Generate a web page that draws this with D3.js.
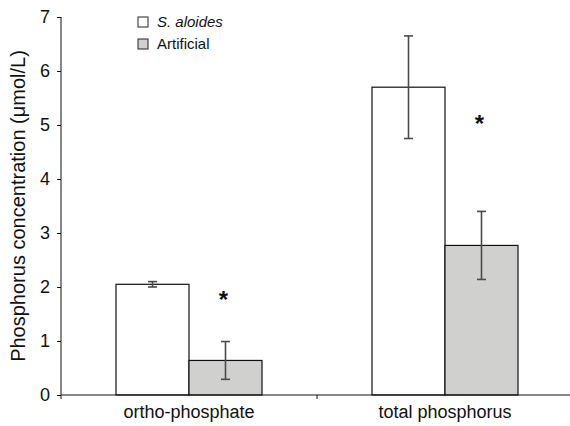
<!doctype html>
<html>
<head>
<meta charset="utf-8">
<title>Phosphorus concentration</title>
<script src="https://cdn.jsdelivr.net/npm/d3@7"></script>
<style>
  body { margin: 0; background: #fff; }
  text { font-family: "Liberation Sans", Arial, sans-serif; fill: #111; }
</style>
</head>
<body>
<div id="chart-area"></div>
<script>
// data
var categories = ["ortho-phosphate", "total phosphorus"];
var seriesNames = ["S. aloides", "Artificial"];
var aloidesValues = [2.05, 5.70];
var aloidesErrors = [0.05, 0.95];
var artificialValues = [0.64, 2.77];
var artificialErrors = [0.35, 0.63];
var starValues = [1.85, 5.12];
var yTicks = [0, 1, 2, 3, 4, 5, 6, 7];

var colors = ["#ffffff", "#d0d0cf"];

var W = 570, H = 426;
var margin = { left: 61, right: -3, top: 17, bottom: 31 };
var width = W - margin.left - margin.right,
    height = H - margin.top - margin.bottom;

var svg = d3.select("#chart-area").append("svg")
    .attr("width", W).attr("height", H);
var g = svg.append("g")
    .attr("transform", "translate(" + margin.left + "," + margin.top + ")");

// scales
var x = d3.scaleBand().domain(categories).range([0, width]);
var y = d3.scaleLinear().domain([0, 7]).range([height, 0]);
var barW = 73;

var rows = [];
categories.forEach(function(c, i) {
    rows.push({ cat: c, s: 0, v: aloidesValues[i], e: aloidesErrors[i] });
    rows.push({ cat: c, s: 1, v: artificialValues[i], e: artificialErrors[i] });
});
function barX(d) { return x(d.cat) + x.bandwidth() / 2 + (d.s - 1) * barW; }

// bars
g.selectAll("rect.bar").data(rows).enter().append("rect")
    .attr("class", "bar")
    .attr("x", barX)
    .attr("y", function(d) { return y(d.v); })
    .attr("width", barW)
    .attr("height", function(d) { return y(0) - y(d.v); })
    .attr("fill", function(d) { return colors[d.s]; })
    .attr("stroke", "#111")
    .attr("stroke-width", 1.2);

// error bars
var eb = g.selectAll("g.err").data(rows).enter().append("g")
    .attr("class", "err")
    .attr("stroke", "#4a4a4a")
    .attr("stroke-width", 1.6);
eb.append("line")
    .attr("x1", function(d) { return barX(d) + barW / 2; })
    .attr("x2", function(d) { return barX(d) + barW / 2; })
    .attr("y1", function(d) { return y(d.v + d.e); })
    .attr("y2", function(d) { return y(d.v - d.e); });
[1, -1].forEach(function(sign) {
    eb.append("line")
        .attr("x1", function(d) { return barX(d) + barW / 2 - 4.5; })
        .attr("x2", function(d) { return barX(d) + barW / 2 + 4.5; })
        .attr("y1", function(d) { return y(d.v + sign * d.e); })
        .attr("y2", function(d) { return y(d.v + sign * d.e); });
});

// significance stars
g.selectAll("text.star").data(categories).enter().append("text")
    .attr("class", "star")
    .attr("x", function(c) { return x(c) + x.bandwidth() / 2 + barW / 2 - 2; })
    .attr("y", function(c, i) { return y(starValues[i]) + 13; })
    .attr("text-anchor", "middle")
    .attr("font-size", "24px")
    .attr("font-weight", "bold")
    .text("*");

// axes
var yAxis = g.append("g").call(d3.axisLeft(y).tickValues(yTicks).tickFormat(d3.format("d")).tickSize(4).tickPadding(7));
yAxis.select(".domain").attr("d", "M0," + y(0) + "V" + y(7));
yAxis.selectAll("text").attr("font-size", "18px").attr("fill", "#111")
    .attr("font-family", "Liberation Sans, Arial, sans-serif");
yAxis.selectAll("line").attr("stroke", "#111");
yAxis.select(".domain").attr("stroke", "#111");

var xAxisG = g.append("g").attr("transform", "translate(0," + height + ")");
xAxisG.append("line").attr("x1", 0).attr("x2", width).attr("stroke", "#111");
xAxisG.selectAll("line.tk").data([0, x.bandwidth()]).enter().append("line")
    .attr("class", "tk")
    .attr("x1", function(d) { return d; }).attr("x2", function(d) { return d; })
    .attr("y1", 0).attr("y2", 4).attr("stroke", "#111");
xAxisG.selectAll("text").data(categories).enter().append("text")
    .attr("x", function(c) { return x(c) + x.bandwidth() / 2; })
    .attr("y", 23)
    .attr("text-anchor", "middle")
    .attr("font-size", "18px")
    .text(function(c) { return c; });

// y label
g.append("text")
    .attr("transform", "rotate(-90)")
    .attr("x", -(y(3.5)))
    .attr("y", -36)
    .attr("text-anchor", "middle")
    .attr("font-size", "20px")
    .text("Phosphorus concentration (\u03bcmol/L)");

// legend
var legend = svg.append("g").attr("transform", "translate(138,17)");
seriesNames.forEach(function(name, i) {
    var row = legend.append("g").attr("transform", "translate(0," + (i * 22) + ")");
    row.append("rect").attr("width", 10).attr("height", 10)
        .attr("fill", colors[i]).attr("stroke", "#222").attr("stroke-width", 1);
    row.append("text").attr("x", 19).attr("y", 9.5)
        .attr("font-size", "15px")
        .attr("font-style", i === 0 ? "italic" : "normal")
        .text(name);
});
</script>
</body>
</html>
